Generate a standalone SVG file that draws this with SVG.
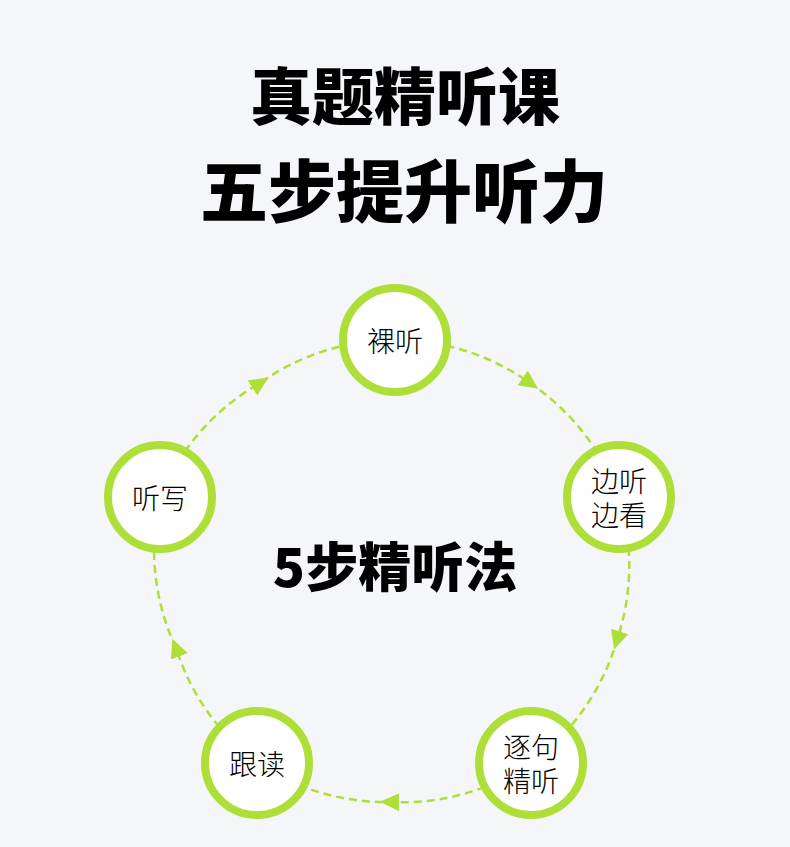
<svg xmlns="http://www.w3.org/2000/svg" width="790" height="847" viewBox="0 0 790 847">
<defs>
<style>
.title{font-family:"Noto Sans CJK SC","Noto Sans",sans-serif;font-weight:900;fill:#000;text-anchor:middle;dominant-baseline:central}
.center{font-family:"Noto Sans CJK SC","Noto Sans",sans-serif;font-weight:900;fill:#000;text-anchor:middle;dominant-baseline:central;font-size:53px}
.ring{fill:#fff;stroke:#addf38;stroke-width:8}
.lbl{font-family:"Noto Sans CJK SC","Noto Sans",sans-serif;font-weight:300;fill:#000;text-anchor:middle;dominant-baseline:central;font-size:28px}
.conn{fill:none;stroke:#addf38;stroke-width:2.5;stroke-dasharray:8 5;marker-mid:url(#arr)}
</style>
<marker id="arr" markerUnits="userSpaceOnUse" markerWidth="22" markerHeight="20" refX="9" refY="9" orient="auto">
<path d="M0,0 L19,9 L0,18 Z" fill="#addf38"/>
</marker>
</defs>
<rect width="790" height="847" fill="#f5f6fa"/>
<text class="title" x="405" y="93" font-size="62">真题精听课</text>
<text class="title" x="404" y="187" font-size="68">五步提升听力</text>
<text class="center" x="395" y="564">5步精听法</text>
<g id="connectors">
<path class="conn" d="M395,340 A233,233 0 0 1 530,383 A233,233 0 0 1 619,497"/>
<path class="conn" d="M619,497 A233,233 0 0 1 617,640 A233,233 0 0 1 531,763"/>
<path class="conn" d="M531,763 A233,233 0 0 1 390,802 A233,233 0 0 1 257,763"/>
<path class="conn" d="M257,763 A233,233 0 0 1 176,648 A233,233 0 0 1 160,497"/>
<path class="conn" d="M160,497 A233,233 0 0 1 260,383 A233,233 0 0 1 395,340"/>
</g>
<g id="node1"><circle class="ring" cx="395" cy="340" r="52"/><text class="lbl" x="395" y="340">裸听</text></g>
<g id="node2"><circle class="ring" cx="619" cy="497" r="52"/><text class="lbl"><tspan x="619" y="480">边听</tspan><tspan x="619" y="514">边看</tspan></text></g>
<g id="node3"><circle class="ring" cx="531" cy="763" r="52"/><text class="lbl"><tspan x="531" y="746">逐句</tspan><tspan x="531" y="780">精听</tspan></text></g>
<g id="node4"><circle class="ring" cx="257" cy="763" r="52"/><text class="lbl" x="257" y="763">跟读</text></g>
<g id="node5"><circle class="ring" cx="160" cy="497" r="52"/><text class="lbl" x="160" y="497">听写</text></g>
</svg>
